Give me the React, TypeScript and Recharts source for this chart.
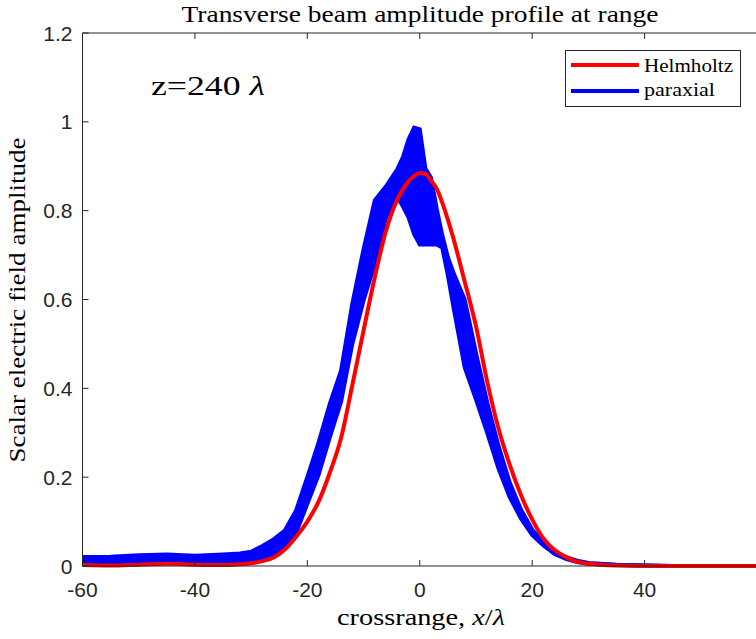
import { Area, ComposedChart, Line, XAxis, YAxis } from "recharts";

// crossrange sample positions, x / lambda
const xs = [
  -60, -55, -50, -45, -40, -35, -32, -30, -28, -26, -24, -22, -20, -18, -16, -14, -12, -10, -8, -6,
  -4, -3, -2, -1, 0, 1, 2, 3, 4, 5, 6, 8, 10, 12, 14, 16, 18, 20, 22, 24, 26, 28, 30, 35, 40, 45,
  50, 55, 60,
];

// Helmholtz amplitude (smooth curve)
const helmholtz = [
  0.002, 0.001, 0.003, 0.005, 0.003, 0.002, 0.004, 0.006, 0.011, 0.019, 0.037, 0.066, 0.1, 0.145,
  0.21, 0.288, 0.407, 0.53, 0.65, 0.755, 0.825, 0.848, 0.866, 0.878, 0.885, 0.883, 0.868, 0.85,
  0.818, 0.78, 0.737, 0.64, 0.54, 0.415, 0.31, 0.228, 0.16, 0.105, 0.062, 0.036, 0.02, 0.01, 0.005,
  0.001, 0, 0, 0, 0, 0,
];

// paraxial amplitude oscillates fast: upper and lower envelope of the band
const paraxialHi = [
  0.02, 0.021, 0.024, 0.026, 0.023, 0.026, 0.028, 0.032, 0.045, 0.06, 0.08, 0.125, 0.2, 0.278,
  0.365, 0.44, 0.59, 0.713, 0.823, 0.855, 0.893, 0.92, 0.96, 0.987, 0.983, 0.895, 0.874, 0.805,
  0.745, 0.695, 0.66, 0.6, 0.48, 0.368, 0.271, 0.188, 0.127, 0.082, 0.053, 0.033, 0.02, 0.012,
  0.007, 0.003, 0.001, 0, 0, 0, 0,
];
const paraxialLo = [
  0.008, 0.008, 0.01, 0.011, 0.007, 0.009, 0.01, 0.012, 0.018, 0.028, 0.04, 0.075, 0.14, 0.205,
  0.29, 0.37, 0.5, 0.598, 0.68, 0.785, 0.83, 0.81, 0.785, 0.747, 0.724, 0.724, 0.724, 0.724,
  0.717, 0.655, 0.583, 0.447, 0.375, 0.3, 0.22, 0.155, 0.107, 0.07, 0.046, 0.027, 0.016, 0.009,
  0.005, 0.002, 0.001, 0, 0, 0, 0,
];

// 60 sits on the clipped right edge, so it is not labelled
const xTicks = [-60, -40, -20, 0, 20, 40];
const yTicks = [0, 0.2, 0.4, 0.6, 0.8, 1, 1.2];

const RED = "#FF0000";
const BLUE = "#0000FF";
const AXIS = "#262626";
const SANS = "Liberation Sans, Arial, sans-serif";
const SERIF = "Liberation Serif, Times New Roman, serif";

const data = xs.map((x, i) => ({
  x,
  helmholtz: helmholtz[i],
  paraxial: [paraxialLo[i], paraxialHi[i]],
}));

function BottomTick(props: any) {
  const { x, y, payload } = props;
  return (
    <g>
      <line x1={x} x2={x} y1={y} y2={y - 6} stroke={AXIS} />
      <text x={x} y={y + 31} textAnchor="middle" fill={AXIS} fontSize={21} fontFamily={SANS}>
        {payload.value}
      </text>
    </g>
  );
}

function TopTick(props: any) {
  const { x, y } = props;
  return <line x1={x} x2={x} y1={y} y2={y + 6} stroke={AXIS} />;
}

function LeftTick(props: any) {
  const { x, y, payload } = props;
  return (
    <g>
      <line x1={x} x2={x + 6} y1={y} y2={y} stroke={AXIS} />
      <text x={x - 10} y={y + 7.5} textAnchor="end" fill={AXIS} fontSize={21} fontFamily={SANS}>
        {String(payload.value)}
      </text>
    </g>
  );
}

export default function App() {
  return (
    <div
      style={{ position: "absolute", left: 0, top: 0, width: 756, height: 639, overflow: "hidden", background: "#fff" }}
    >
      <ComposedChart width={762} height={639} data={data} margin={{ top: 0, right: 5, bottom: 0, left: 0 }}>
        <XAxis
          dataKey="x"
          type="number"
          domain={[-60, 60]}
          ticks={xTicks}
          height={73}
          tickSize={0}
          tickMargin={0}
          tickLine={false}
          axisLine={{ stroke: AXIS }}
          tick={BottomTick}
          interval={0}
        />
        <XAxis
          xAxisId="top"
          orientation="top"
          dataKey="x"
          type="number"
          domain={[-60, 60]}
          ticks={xTicks}
          height={33}
          tickSize={0}
          tickMargin={0}
          tickLine={false}
          axisLine={{ stroke: AXIS }}
          tick={TopTick}
          interval={0}
        />
        <YAxis
          type="number"
          domain={[0, 1.2]}
          ticks={yTicks}
          width={82.5}
          tickSize={0}
          tickMargin={0}
          tickLine={false}
          axisLine={{ stroke: AXIS }}
          tick={LeftTick}
          interval={0}
        />
        <Line
          dataKey="helmholtz"
          type="monotone"
          stroke={RED}
          strokeWidth={4}
          dot={false}
          activeDot={false}
          isAnimationActive={false}
        />
        <Area
          dataKey="paraxial"
          type="linear"
          stroke={BLUE}
          strokeWidth={4}
          fill={BLUE}
          fillOpacity={1}
          dot={false}
          activeDot={false}
          isAnimationActive={false}
        />
      </ComposedChart>

      <svg width={756} height={639} style={{ position: "absolute", left: 0, top: 0, pointerEvents: "none" }}>
        <text x={420} y={22} textAnchor="middle" fontFamily={SERIF} fontSize={24} textLength={477} lengthAdjust="spacingAndGlyphs">
          Transverse beam amplitude profile at range
        </text>
        <text
          transform="translate(25,300) rotate(-90)"
          textAnchor="middle"
          fontFamily={SERIF}
          fontSize={24}
          textLength={325}
          lengthAdjust="spacingAndGlyphs"
        >
          Scalar electric field amplitude
        </text>
        <text x={421} y={625} textAnchor="middle" fontFamily={SERIF} fontSize={24} textLength={168} lengthAdjust="spacingAndGlyphs">
          crossrange, <tspan fontStyle="italic">x</tspan>/<tspan fontStyle="italic">λ</tspan>
        </text>
        <text x={151} y={95} fontFamily={SERIF} fontSize={28} textLength={114} lengthAdjust="spacingAndGlyphs">
          z=240 <tspan fontStyle="italic">λ</tspan>
        </text>

        <rect x={565.5} y={50.5} width={175} height={56} fill="#fff" stroke={AXIS} strokeWidth={1} />
        <line x1={571} x2={639} y1={65} y2={65} stroke={RED} strokeWidth={4} />
        <line x1={571} x2={639} y1={91} y2={91} stroke={BLUE} strokeWidth={4} />
        <text x={644} y={72} fontFamily={SERIF} fontSize={19} textLength={89} lengthAdjust="spacingAndGlyphs">
          Helmholtz
        </text>
        <text x={644} y={96} fontFamily={SERIF} fontSize={19} textLength={71} lengthAdjust="spacingAndGlyphs">
          paraxial
        </text>
      </svg>
    </div>
  );
}
